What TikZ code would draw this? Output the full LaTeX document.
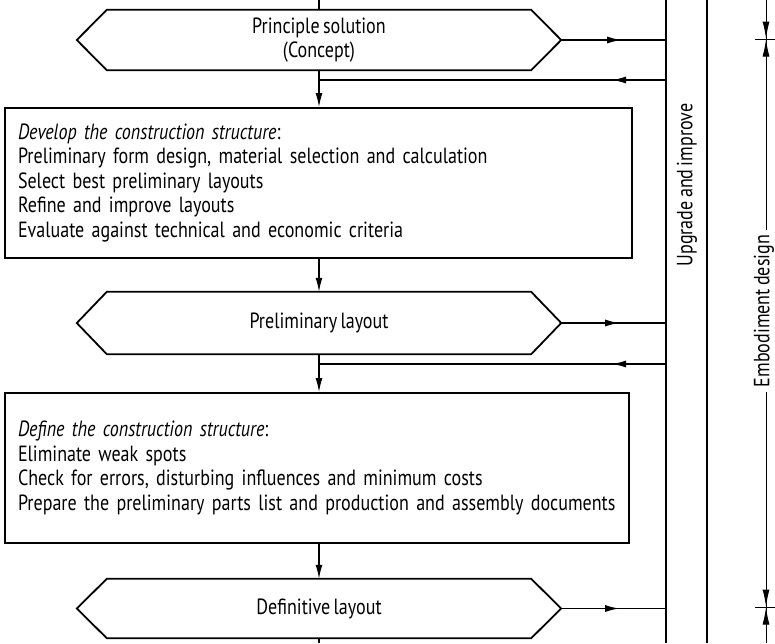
\documentclass[tikz,border=0pt]{standalone}
\usepackage{fontspec}
\setmainfont{PT Sans}[FakeStretch=0.82,WordSpace=0.7]
\usetikzlibrary{arrows.meta}
\begin{document}
\begin{tikzpicture}[x=1pt,y=-1pt,
  txt/.style={font=\fontsize{22pt}{24.5pt}\selectfont},
  hexnode/.style={txt, minimum height=#1, minimum width=424pt, inner sep=0pt, align=center},
  outline/.style={line width=1.8pt, line join=miter},
  boxnode/.style={draw, outline, txt, inner xsep=13pt, inner ysep=0pt, align=left},
  flow/.style={line width=1.4pt, -{Latex[length=14pt,width=7pt]}},
  plain/.style={line width=1.4pt},
  rail/.style={line width=1.6pt},
  dim/.style={line width=1pt},
  dimtip/.style={line width=1pt, -{Latex[length=17pt,width=7pt]}}]

\useasboundingbox (0,0) rectangle (775,643);

% hexagon nodes
\node[hexnode=60pt] (h1) at (319,40) {Principle solution\\(Concept)};
\node[hexnode=62pt] (h2) at (319,323) {Preliminary layout};
\node[hexnode=59pt] (h3) at (319,608.5) {Definitive layout};
\foreach \n in {h1,h2,h3}
  \draw[outline] (\n.north west) -- (\n.north east) -- ([xshift=30pt]\n.east) -- (\n.south east) -- (\n.south west) -- ([xshift=-30pt]\n.west) -- cycle;

% boxes
\node[boxnode, text width=601pt, minimum height=150pt] (b1) at (318.5,183)
  {\textit{Develop the construction structure}:\\
   Preliminary form design, material selection and calculation\\
   Select best preliminary layouts\\
   Refine and improve layouts\\
   Evaluate against technical and economic criteria};
\node[boxnode, text width=598pt, minimum height=150pt] (b2) at (317,468)
  {\textit{Define the construction structure}:\\
   Eliminate weak spots\\
   Check for errors, disturbing influences and minimum costs\\
   \mbox{Prepare the preliminary parts list and production and assembly documents}};

% rails
\coordinate (At) at (666,0); \coordinate (Ab) at (666,643);
\coordinate (Bt) at (707,0); \coordinate (Bb) at (707,643);
\draw[rail] (At) -- (Ab);
\draw[rail] (Bt) -- (Bb);
\node[txt, rotate=90] (ui) at (687,185) {Upgrade and improve};

% dimension
\coordinate (Dt) at (766,0); \coordinate (Db) at (766,643);
\draw[dim] (Dt) -- (Db);
\node[txt, rotate=90, fill=white, inner xsep=5pt, inner ysep=1pt] (ed) at (764,311) {Embodiment design};
\coordinate (k1) at (766,39);
\coordinate (k2) at (766,607);
\foreach \k in {k1,k2}{
  \draw[dim] ([xshift=-11pt]\k) -- ([xshift=11pt]\k);
  \draw[dimtip] ([yshift=24pt]\k) -- ([yshift=0.5pt]\k);
  \draw[dimtip] ([yshift=-24pt]\k) -- ([yshift=-0.5pt]\k);
}

% main flow
\coordinate (top) at (319,0);
\coordinate (bot) at (319,643);
\draw[plain] (top) -- (h1.north);
\draw[flow] (h1.south) -- (h1.south |- b1.north);
\draw[flow] (h2.north |- b1.south) -- (h2.north);
\draw[flow] (h2.south) -- (h2.south |- b2.north);
\draw[flow] (h3.north |- b2.south) -- (h3.north);
\draw[plain] (h3.south) -- (bot);

% to the upgrade rail (arrowhead part-way along)
\foreach \n/\d in {h1/60,h2/58,h3/58}{
  \coordinate (\n r) at ([xshift=30pt]\n.east);
  \draw[plain] (\n r) -- (\n r -| At);
  \draw[flow] (\n r) -- ([xshift=\d pt]\n r);
}

% returns (arrowhead near the rail)
\coordinate (j1) at (319,80);
\coordinate (j2) at (319,364);
\foreach \j in {j1,j2}{
  \draw[plain] (\j -| At) -- (\j);
  \draw[flow] (\j -| At) -- ([xshift=-54pt]\j -| At);
}
\end{tikzpicture}
\end{document}
